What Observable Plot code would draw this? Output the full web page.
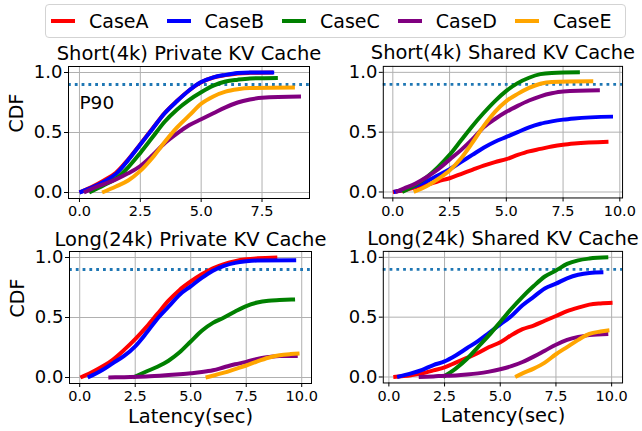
<!DOCTYPE html>
<html><head><meta charset="utf-8">
<script src="https://cdn.jsdelivr.net/npm/d3@7"></script>
<script src="https://cdn.jsdelivr.net/npm/@observablehq/plot@0.6"></script>
<style>
body{margin:0;background:#fff;font-family:"DejaVu Sans",sans-serif;}
#wrap{position:relative;width:642px;height:431px;overflow:hidden;background:#fff;}
.panel{position:absolute;}
.panel svg{overflow:visible;display:block;}
#legend{position:absolute;left:45px;top:4px;width:581px;height:34px;box-sizing:border-box;border:1px solid #d3d3d3;border-radius:4px;display:flex;align-items:center;padding-left:5px;}
.item{display:flex;align-items:center;margin-right:18px;font-size:19px;color:#000;}
.sw{width:24px;height:4px;margin-right:14px;}
</style>
</head><body>
<div id="wrap"><div id="legend"></div></div>
<script>
const cases = ["CaseA", "CaseB", "CaseC", "CaseD", "CaseE"];
const colors = ["red", "blue", "green", "purple", "orange"];
const titles = ["Short(4k) Private KV Cache", "Short(4k) Shared KV Cache", "Long(24k) Private KV Cache", "Long(24k) Shared KV Cache"];
const yTicks = [0, 0.5, 1.0];
const xTicksShortPrivate = [0, 2.5, 5, 7.5];
const xTicksOther = [0, 2.5, 5, 7.5, 10];
const p90 = 0.9;

// Short(4k) Private KV Cache: [latency, cdf]
const spA = [[0,0],[0.5,0.045],[1.0,0.1],[1.5,0.165],[2.0,0.275],[2.5,0.403],[3.0,0.533],[3.5,0.662],[4.0,0.762],[4.5,0.85],[5.0,0.918],[5.5,0.958],[6.0,0.978],[6.5,0.992],[7.0,0.997],[7.95,1.0]];
const spB = [[0,0],[0.5,0.04],[1.0,0.09],[1.5,0.155],[2.0,0.27],[2.5,0.4],[3.0,0.53],[3.5,0.66],[4.0,0.76],[4.5,0.85],[5.0,0.92],[5.5,0.96],[6.0,0.98],[6.5,0.995],[7.0,1.0],[8.0,1.0]];
const spC = [[0.4,0],[1.0,0.06],[1.5,0.115],[2.0,0.21],[2.5,0.33],[3.0,0.46],[3.5,0.59],[4.0,0.69],[4.5,0.77],[5.0,0.835],[5.5,0.89],[6.0,0.925],[6.5,0.94],[7.0,0.95],[8.15,0.955]];
const spD = [[0.18,0],[0.5,0.03],[1.0,0.07],[1.5,0.11],[2.0,0.16],[2.5,0.22],[3.0,0.31],[3.5,0.41],[4.0,0.49],[4.5,0.56],[5.0,0.61],[5.5,0.66],[6.0,0.71],[6.5,0.75],[7.0,0.775],[7.5,0.79],[9.1,0.8]];
const spE = [[0.93,0],[1.5,0.05],[2.0,0.1],[2.5,0.18],[3.0,0.29],[3.5,0.42],[4.0,0.54],[4.5,0.64],[5.0,0.74],[5.5,0.8],[6.0,0.84],[6.5,0.86],[7.0,0.87],[8.85,0.875]];

// Short(4k) Shared KV Cache
const ssA = [[0,0],[0.5,0.015],[1.0,0.04],[1.5,0.06],[2.0,0.09],[2.5,0.115],[3.0,0.15],[3.5,0.185],[4.0,0.22],[4.5,0.25],[5.0,0.275],[5.5,0.31],[6.0,0.34],[6.5,0.36],[7.0,0.38],[7.5,0.395],[8.0,0.405],[9.5,0.42]];
const ssB = [[0.04,0],[0.5,0.02],[1.0,0.05],[1.5,0.09],[2.0,0.14],[2.5,0.19],[3.0,0.25],[3.5,0.31],[4.0,0.37],[4.5,0.42],[5.0,0.46],[5.5,0.5],[6.0,0.54],[6.5,0.57],[7.0,0.59],[7.5,0.605],[8.0,0.615],[9.7,0.63]];
const ssC = [[0.41,0],[1.0,0.06],[1.5,0.125],[2.0,0.21],[2.5,0.31],[3.0,0.43],[3.5,0.55],[4.0,0.66],[4.5,0.76],[5.0,0.845],[5.5,0.91],[6.0,0.955],[6.5,0.985],[7.0,0.995],[8.24,1.0]];
const ssD = [[0.12,0],[0.5,0.03],[1.0,0.07],[1.5,0.125],[2.0,0.19],[2.5,0.27],[3.0,0.35],[3.5,0.44],[4.0,0.54],[4.5,0.61],[5.0,0.67],[5.5,0.72],[6.0,0.765],[6.5,0.8],[7.0,0.825],[7.5,0.84],[9.12,0.85]];
const ssE = [[0.92,0],[1.5,0.05],[2.0,0.11],[2.5,0.18],[3.0,0.28],[3.5,0.41],[4.0,0.55],[4.5,0.67],[5.0,0.76],[5.5,0.82],[6.0,0.87],[6.5,0.905],[7.0,0.92],[8.83,0.925]];

// Long(24k) Private KV Cache
const lpA = [[0.03,0],[0.5,0.04],[1.0,0.09],[1.5,0.15],[2.0,0.23],[2.5,0.32],[3.0,0.42],[3.5,0.53],[4.0,0.64],[4.5,0.73],[5.0,0.8],[5.5,0.86],[6.0,0.91],[6.5,0.945],[7.0,0.97],[7.5,0.985],[8.0,0.993],[8.9,1.0]];
const lpB = [[0.36,0],[1.0,0.06],[1.5,0.12],[2.0,0.18],[2.5,0.26],[3.0,0.37],[3.5,0.49],[4.0,0.59],[4.5,0.69],[5.0,0.76],[5.5,0.83],[6.0,0.89],[6.5,0.93],[7.0,0.955],[7.5,0.968],[8.0,0.975],[9.75,0.978]];
const lpC = [[2.4,0],[3.0,0.05],[3.5,0.09],[4.0,0.14],[4.5,0.21],[5.0,0.3],[5.5,0.39],[6.0,0.455],[6.5,0.5],[7.0,0.55],[7.5,0.595],[8.0,0.625],[8.5,0.64],[9.0,0.645],[9.7,0.65]];
const lpD = [[1.29,0],[2.0,0.003],[3.0,0.008],[4.0,0.02],[4.5,0.027],[5.0,0.035],[5.5,0.045],[6.0,0.06],[6.5,0.085],[7.0,0.11],[7.5,0.13],[8.0,0.155],[8.5,0.17],[9.0,0.18],[9.82,0.18]];
const lpE = [[5.67,0],[6.0,0.015],[6.5,0.04],[7.0,0.07],[7.5,0.1],[8.0,0.135],[8.5,0.165],[9.0,0.185],[9.5,0.195],[9.9,0.2]];

// Long(24k) Shared KV Cache
const lsA = [[0.2,0],[1.0,0.015],[1.5,0.03],[2.0,0.055],[2.5,0.08],[3.0,0.12],[3.5,0.16],[4.0,0.2],[4.5,0.25],[5.0,0.29],[5.5,0.35],[6.0,0.4],[6.5,0.43],[7.0,0.47],[7.5,0.51],[8.0,0.55],[8.5,0.58],[9.0,0.605],[9.5,0.615],[10.04,0.62]];
const lsB = [[0.37,0],[1.0,0.03],[1.5,0.06],[2.0,0.1],[2.5,0.13],[3.0,0.18],[3.5,0.24],[4.0,0.3],[4.5,0.37],[5.0,0.44],[5.5,0.51],[6.0,0.6],[6.5,0.67],[7.0,0.74],[7.5,0.78],[8.0,0.825],[8.5,0.855],[9.0,0.87],[9.63,0.875]];
const lsC = [[2.43,0],[3.0,0.07],[3.5,0.15],[4.0,0.25],[4.5,0.35],[5.0,0.46],[5.5,0.57],[6.0,0.67],[6.5,0.76],[7.0,0.84],[7.5,0.89],[8.0,0.945],[8.5,0.975],[9.0,0.99],[9.85,1.0]];
const lsD = [[1.34,0],[2.0,0.005],[2.5,0.01],[3.0,0.013],[3.5,0.02],[4.0,0.03],[4.5,0.045],[5.0,0.065],[5.5,0.09],[6.0,0.125],[6.5,0.17],[7.0,0.22],[7.5,0.27],[8.0,0.31],[8.5,0.335],[9.0,0.35],[9.85,0.36]];
const lsE = [[5.67,0],[6.0,0.03],[6.5,0.07],[7.0,0.12],[7.5,0.19],[8.0,0.25],[8.5,0.31],[9.0,0.36],[9.5,0.38],[9.9,0.39]];

const panels = [
  {title: titles[0], series: [spA, spB, spC, spD, spE], xticks: xTicksShortPrivate, xdom: [-0.45, 9.45], fl: 68, fr: 309, ft: 66, fb: 198, ylab: true, xlab: false, p90label: true, titleDy: -7},
  {title: titles[1], series: [ssA, ssB, ssC, ssD, ssE], xticks: xTicksOther, xdom: [-0.42, 10.12], fl: 383, fr: 623, ft: 66, fb: 198, ylab: false, xlab: false, p90label: false, titleDy: -7},
  {title: titles[2], series: [lpA, lpB, lpC, lpD, lpE], xticks: xTicksOther, xdom: [-0.46, 10.44], fl: 69, fr: 311, ft: 251, fb: 383, ylab: true, xlab: true, p90label: false, titleDy: -6},
  {title: titles[3], series: [lsA, lsB, lsC, lsD, lsE], xticks: xTicksOther, xdom: [-0.25, 10.49], fl: 383, fr: 623, ft: 251, fb: 383, ylab: false, xlab: true, p90label: false, titleDy: -6}
];

const wrap = document.getElementById("wrap");
const fmt = d3.format(".1f");

for (const p of panels) {
  const ml = 70, mr = 20, mt = 40, mb = 50;
  const rows = [];
  cases.forEach((c, i) => p.series[i].forEach(([x, y]) => rows.push({c, x, y})));
  const marks = [
    Plot.gridX(p.xticks, {stroke: "#b0b0b0", strokeOpacity: 1, strokeWidth: 1}),
    Plot.gridY(yTicks, {stroke: "#b0b0b0", strokeOpacity: 1, strokeWidth: 1}),
    Plot.ruleY([p90], {stroke: "#1f77b4", strokeWidth: 2.8, strokeDasharray: "2.8,4"}),
    Plot.line(rows, {x: "x", y: "y", z: "c", stroke: "c", strokeWidth: 4, curve: "monotone-x", strokeLinecap: "butt", strokeLinejoin: "round"}),
    Plot.frame({stroke: "black", strokeWidth: 1}),
    Plot.axisX(p.xticks, {tickFormat: fmt, fontSize: 14.5, tickSize: 4, tickPadding: 3.5, label: null}),
    Plot.axisY(yTicks, {tickFormat: fmt, fontSize: 18, tickSize: 4, tickPadding: 2, label: null}),
    Plot.text([p.title], {frameAnchor: "top", dy: p.titleDy, lineAnchor: "bottom", fontSize: 19.5, fill: "black"})
  ];
  if (p.ylab) marks.push(Plot.text(["CDF"], {frameAnchor: "left", dx: -52, rotate: -90, fontSize: 19, fill: "black"}));
  if (p.xlab) marks.push(Plot.text(["Latency(sec)"], {frameAnchor: "bottom", dy: 39, lineAnchor: "bottom", fontSize: 19.5, fill: "black"}));
  if (p.p90label) marks.push(Plot.text([{x: 0, y: 0.7, t: "P90"}], {x: "x", y: "y", text: "t", textAnchor: "start", lineAnchor: "bottom", fontSize: 18.5, fill: "black"}));
  const chart = Plot.plot({
    width: (p.fr - p.fl) + ml + mr,
    height: (p.fb - p.ft) + mt + mb,
    marginLeft: ml, marginRight: mr, marginTop: mt, marginBottom: mb,
    x: {domain: p.xdom},
    y: {domain: [-0.05, 1.05]},
    color: {domain: cases, range: colors},
    style: {fontFamily: "DejaVu Sans", background: "transparent", color: "black", overflow: "visible"},
    marks
  });
  const div = document.createElement("div");
  div.className = "panel";
  div.style.left = (p.fl - ml) + "px";
  div.style.top = (p.ft - mt) + "px";
  div.appendChild(chart);
  wrap.appendChild(div);
}

const legend = document.getElementById("legend");
cases.forEach((c, i) => {
  const it = document.createElement("div");
  it.className = "item";
  const sw = document.createElement("div");
  sw.className = "sw";
  sw.style.background = colors[i];
  const tx = document.createElement("span");
  tx.textContent = c;
  it.appendChild(sw); it.appendChild(tx);
  legend.appendChild(it);
});
</script>
</body></html>
